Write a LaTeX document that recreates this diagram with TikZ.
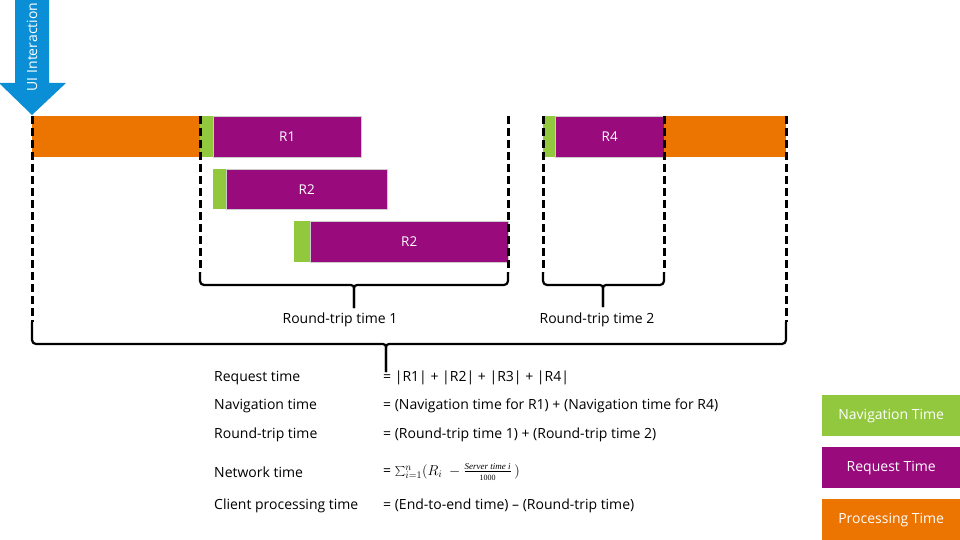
\documentclass[tikz,border=0pt]{standalone}
\usepackage{fontspec}
\setmainfont{Open Sans}
\newfontfamily\seriffont{Liberation Serif}
\begin{document}
\begin{tikzpicture}[x=1pt,y=-1pt,
  bar/.style={anchor=north west,inner sep=0pt,minimum height=41pt,text=white,font=\fontsize{13.5}{15}\selectfont},
  nav/.style={bar,fill=navgreen},
  req/.style={bar,fill=reqpurple,draw=gray!40,line width=0.4pt},
  proc/.style={bar,fill=procorange},
  vdash/.style={line width=3pt,dash pattern=on 8pt off 4pt},
  brace/.style={line width=2.2pt,line join=round},
  lbl/.style={anchor=west,inner sep=0pt,font=\fontsize{14}{16}\selectfont},
  legend/.style={anchor=north west,inner sep=0pt,minimum width=138pt,minimum height=41pt,text=white,font=\fontsize{14}{16}\selectfont}]
\definecolor{navgreen}{RGB}{146,200,62}
\definecolor{reqpurple}{RGB}{153,10,125}
\definecolor{procorange}{RGB}{236,116,0}
\definecolor{uiblue}{RGB}{10,143,214}
\useasboundingbox (0,0) rectangle (960,540);
% UI Interaction arrow
\fill[uiblue] (15,0) -- (49,0) -- (49,83) -- (66,83) -- (32,115) -- (-1,83) -- (15,83) -- cycle;
\node[rotate=90,text=white,font=\fontsize{14}{16}\selectfont,inner sep=0pt] (ui) at (32,47) {UI Interaction};
% row 1 left
\node[proc,minimum width=168pt] (p1) at (32,116) {};
\node[nav,minimum width=13pt] (n1) at (200,116) {};
\node[req,minimum width=148pt] (r1) at (213,116) {R1};
% row 2
\node[nav,minimum width=13pt,minimum height=40pt] (n2) at (213,169) {};
\node[req,minimum width=161pt,minimum height=40pt] (r2) at (226,169) {R2};
% row 3
\node[nav,minimum width=16pt] (n3) at (294,221) {};
\node[req,minimum width=198pt] (r3) at (310,221) {R2};
% row 1 right
\node[nav,minimum width=12pt] (n4) at (543,116) {};
\node[req,minimum width=109pt] (r4) at (555,116) {R4};
\node[proc,minimum width=122pt] (p2) at (664,116) {};
% dashed lines
\coordinate (d1t) at (32,116);  \coordinate (d1b) at (32,322);
\coordinate (d2t) at (200,116); \coordinate (d2b) at (200,272);
\coordinate (d3t) at (508,116); \coordinate (d3b) at (508,272);
\coordinate (d4t) at (543,116); \coordinate (d4b) at (543,272);
\coordinate (d5t) at (664,116); \coordinate (d5b) at (664,272);
\coordinate (d6t) at (786,116); \coordinate (d6b) at (786,322);
\foreach \a/\b in {d1t/d1b,d2t/d2b,d3t/d3b,d4t/d4b,d5t/d5b,d6t/d6b}
  \draw[vdash] (\a) -- (\b);
% braces
\draw[brace] (200,272) -- (200,281) arc[start angle=180,end angle=90,radius=4] -- (351,285) arc[start angle=-90,end angle=0,radius=3] -- (354,308);
\draw[brace] (508,272) -- (508,281) arc[start angle=0,end angle=90,radius=4] -- (357,285) arc[start angle=270,end angle=180,radius=3] -- (354,308);
\draw[brace] (543,272) -- (543,281) arc[start angle=180,end angle=90,radius=4] -- (600,285) arc[start angle=-90,end angle=0,radius=3] -- (603,307);
\draw[brace] (664,272) -- (664,281) arc[start angle=0,end angle=90,radius=4] -- (606,285) arc[start angle=270,end angle=180,radius=3] -- (603,307);
\draw[brace] (32,322) -- (32,340) arc[start angle=180,end angle=90,radius=4] -- (383,344) arc[start angle=-90,end angle=0,radius=3] -- (386,372);
\draw[brace] (786,322) -- (786,340) arc[start angle=0,end angle=90,radius=4] -- (389,344) arc[start angle=270,end angle=180,radius=3] -- (386,372);
\node[font=\fontsize{14}{16}\selectfont,inner sep=0pt] (rt1) at (340,320) {Round-trip time 1};
\node[font=\fontsize{14}{16}\selectfont,inner sep=0pt] (rt2) at (597,320) {Round-trip time 2};
% formulas
\node[lbl] (l1) at (214,378) {Request time};
\node[lbl] (l2) at (214,406) {Navigation time};
\node[lbl] (l3) at (214,435) {Round-trip time};
\node[lbl] (l4) at (214,472) {Network time};
\node[lbl] (l5) at (214,506) {Client processing time};
\node[lbl] (f1) at (383,378) {= |R1| + |R2| + |R3| + |R4|};
\node[lbl] (f2) at (383,406) {= (Navigation time for R1) + (Navigation time for R4)};
\node[lbl] (f3) at (383,435) {= (Round-trip time 1) + (Round-trip time 2)};
\node[lbl] (f4) at (383,472) {= $\sum_{i=1}^{n}(R_i\ -\frac{\mbox{\fontsize{9}{10}\selectfont\seriffont\itshape Server time i}}{\mbox{\fontsize{8}{9}\selectfont\seriffont 1000}}\,)$};
\node[lbl] (f5) at (383,506) {= (End-to-end time) -- (Round-trip time)};
% legend
\node[legend,fill=navgreen] (lg1) at (822,395) {Navigation Time};
\node[legend,fill=reqpurple] (lg2) at (822,447) {Request Time};
\node[legend,fill=procorange] (lg3) at (822,499) {Processing Time};
\end{tikzpicture}
\end{document}
